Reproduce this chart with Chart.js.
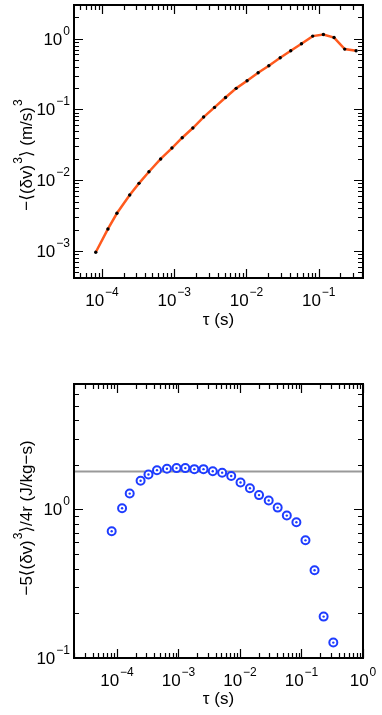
<!DOCTYPE html>
<html lang="en">
<head>
<meta charset="UTF-8">
<title>Third-order structure function</title>
<script src="https://cdn.jsdelivr.net/npm/chart.js"></script>
<style>
  body { margin: 0; background: #fff; }
  .panel { position: absolute; left: 0; }
  #top { top: 0; }
  #bottom { top: 340px; }
</style>
</head>
<body>
<div class="panel" id="top"><canvas id="chartS3" width="382" height="340"></canvas></div>
<div class="panel" id="bottom"><canvas id="chartEps" width="382" height="375"></canvas></div>
<script>
// time lag tau (s), same for both panels
const tau = [8.2e-5, 1.21e-4, 1.61e-4, 2.42e-4, 3.25e-4, 4.47e-4, 6.49e-4, 9.3e-4,
             1.29e-3, 1.81e-3, 2.55e-3, 3.61e-3, 5.13e-3, 7.2e-3, 1.02e-2, 1.45e-2,
             2.04e-2, 2.93e-2, 4.1e-2, 5.77e-2, 8.26e-2, 0.116, 0.163, 0.229, 0.329];
// -<(dv)^3>  (m/s)^3
const s3 = [9.6e-4, 2.05e-3, 3.41e-3, 6.18e-3, 9.03e-3, 1.32e-2, 2.0e-2, 2.85e-2,
            3.99e-2, 5.47e-2, 7.82e-2, 0.107, 0.148, 0.199, 0.255, 0.331,
            0.416, 0.539, 0.677, 0.849, 1.09, 1.15, 1.04, 0.714, 0.677];
// -5<(dv)^3>/4r  (J/kg-s)
const eps = [0.713, 1.02, 1.28, 1.56, 1.72, 1.84, 1.88, 1.90, 1.90, 1.87, 1.87, 1.81, 1.77,
             1.68, 1.52, 1.39, 1.25, 1.15, 1.03, 0.91, 0.82, 0.62, 0.39, 0.19, 0.127];
const epsLevel = 1.80;   // grey reference line

// y titles as pieces, '^' marks a superscript
const yTitleTop = ['\u2212\u27E8(δv)', '^3', '\u27E9 (m/s)', '^3'];
const yTitleBottom = ['\u22125\u27E8(δv)', '^3', '\u27E9/4r (J/kg\u2212s)'];

const FONT = '"Liberation Sans", "DejaVu Sans", Arial, sans-serif';
Chart.defaults.font.family = FONT;
Chart.defaults.color = '#000';

function decades(min, max) {
  const major = [], minor = [];
  for (let e = Math.floor(Math.log10(min)); e <= Math.ceil(Math.log10(max)); e++) {
    const d = Math.pow(10, e);
    if (d >= min * 0.999 && d <= max * 1.001) major.push(e);
    for (let k = 2; k <= 9; k++) {
      const v = k * d;
      if (v >= min && v <= max) minor.push(v);
    }
  }
  return { major, minor };
}

// draw a run of text pieces with superscripts starting at x (baseline y)
function drawRich(ctx, parts, x, y, align) {
  const pieces = parts.map(p => p[0] === '^'
    ? { t: p.slice(1), font: '12px ' + FONT, dy: -10, gap: 1 }
    : { t: p, font: '17px ' + FONT, dy: 0, gap: 0 });
  let total = 0;
  pieces.forEach(p => { ctx.font = p.font; p.w = ctx.measureText(p.t).width; total += p.w + p.gap; });
  let cx = align === 'center' ? x - total / 2 : (align === 'right' ? x - total : x);
  ctx.textAlign = 'left';
  ctx.textBaseline = 'alphabetic';
  pieces.forEach(p => {
    ctx.font = p.font;
    ctx.fillText(p.t, cx + p.gap, y + p.dy);
    cx += p.w + p.gap;
  });
}

function powerLabel(exp) {
  return ['10', '^' + (exp < 0 ? '\u2212' + (-exp) : String(exp))];
}

// box frame with inward ticks on all four sides + power-of-ten labels + y title
const frameAxes = {
  id: 'frameAxes',
  afterDraw(chart, args, opts) {
    const ctx = chart.ctx, a = chart.chartArea;
    const xs = chart.scales.x, ys = chart.scales.y;
    const xt = decades(xs.min, xs.max), yt = decades(ys.min, ys.max);
    ctx.save();
    ctx.strokeStyle = '#000';
    ctx.fillStyle = '#000';
    ctx.lineWidth = 1.2;
    ctx.beginPath();
    const xTick = (v, len) => {
      const p = Math.round(xs.getPixelForValue(v)) + 0.5;
      ctx.moveTo(p, a.bottom); ctx.lineTo(p, a.bottom - len);
      ctx.moveTo(p, a.top); ctx.lineTo(p, a.top + len);
    };
    const yTick = (v, len) => {
      const p = Math.round(ys.getPixelForValue(v)) + 0.5;
      ctx.moveTo(a.left, p); ctx.lineTo(a.left + len, p);
      ctx.moveTo(a.right, p); ctx.lineTo(a.right - len, p);
    };
    xt.major.forEach(e => xTick(Math.pow(10, e), 9));
    xt.minor.forEach(v => xTick(v, 5));
    yt.major.forEach(e => yTick(Math.pow(10, e), 9));
    yt.minor.forEach(v => yTick(v, 5));
    ctx.stroke();
    ctx.lineWidth = 2;
    ctx.strokeRect(a.left, a.top, a.right - a.left, a.bottom - a.top);
    xt.major.forEach(e => drawRich(ctx, powerLabel(e), xs.getPixelForValue(Math.pow(10, e)), a.bottom + 28, 'center'));
    yt.major.forEach(e => drawRich(ctx, powerLabel(e), a.left - 4, ys.getPixelForValue(Math.pow(10, e)) + 6, 'right'));
    if (opts.title) {
      ctx.translate(opts.titleX, opts.titleY);
      ctx.rotate(-Math.PI / 2);
      drawRich(ctx, opts.title, 0, 0, 'center');
    }
    ctx.restore();
  }
};

function logAxis(min, max, title, fit, pad) {
  return {
    type: 'logarithmic', min, max,
    grid: { display: false }, border: { display: false }, ticks: { display: false },
    title: { display: !!pad, text: title, font: { size: 17, family: FONT }, color: '#000', padding: pad || 0 },
    afterFit: fit
  };
}

new Chart(document.getElementById('chartS3'), {
  type: 'scatter',
  data: {
    datasets: [{
      data: tau.map((t, i) => ({ x: t, y: s3[i] })),
      showLine: true,
      borderColor: '#ff5a1e',
      borderWidth: 2.5,
      pointRadius: 1.7,
      pointBorderWidth: 0,
      pointBackgroundColor: '#000',
      tension: 0
    }]
  },
  options: {
    responsive: false, animation: false,
    layout: { padding: { top: 5, right: 19, left: 0, bottom: 0 } },
    plugins: {
      legend: { display: false }, tooltip: { enabled: false },
      frameAxes: { title: yTitleTop, titleX: 32, titleY: 155 }
    },
    scales: {
      x: logAxis(4.1e-5, 0.41, 'τ (s)', s => { s.height = 62; }, { bottom: 9 }),
      y: logAxis(4.15e-4, 3.0, yTitleTop.join(''), s => { s.width = 74; }, null)
    }
  },
  plugins: [frameAxes]
});

new Chart(document.getElementById('chartEps'), {
  type: 'scatter',
  data: {
    datasets: [
      { // centre dots
        data: tau.map((t, i) => ({ x: t, y: eps[i] })),
        pointRadius: 1.2, pointBorderWidth: 0, pointBackgroundColor: '#1e3cff'
      },
      { // rings
        data: tau.map((t, i) => ({ x: t, y: eps[i] })),
        pointRadius: 4, pointBorderWidth: 2,
        pointBorderColor: '#1e3cff', pointBackgroundColor: '#fff'
      },
      { // reference level
        data: [{ x: 2e-5, y: epsLevel }, { x: 1, y: epsLevel }],
        showLine: true, borderColor: '#999', borderWidth: 2, pointRadius: 0
      }
    ]
  },
  options: {
    responsive: false, animation: false,
    layout: { padding: { top: 44, right: 19, left: 0, bottom: 0 } },
    plugins: {
      legend: { display: false }, tooltip: { enabled: false },
      frameAxes: { title: yTitleBottom, titleX: 32, titleY: 178 }
    },
    scales: {
      x: logAxis(2e-5, 1, 'τ (s)', s => { s.height = 57; }, { bottom: 5 }),
      y: logAxis(0.1, 7, yTitleBottom.join(''), s => { s.width = 74; }, null)
    }
  },
  plugins: [frameAxes]
});
</script>
</body>
</html>
